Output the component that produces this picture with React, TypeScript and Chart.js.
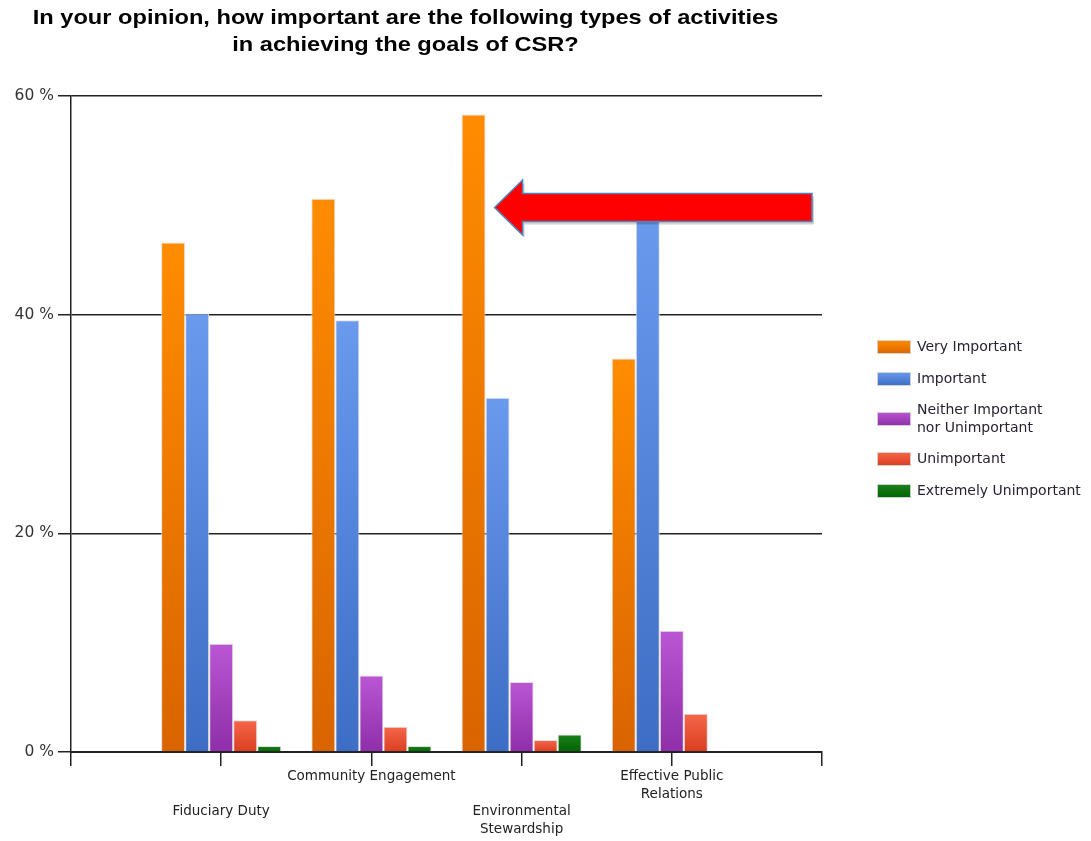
import React, { useEffect, useRef } from "react";
import { Chart, registerables } from "chart.js";

Chart.register(...registerables);

const TITLE_LINES = [
  "In your opinion, how important are the following types of activities",
  "in achieving the goals of CSR?",
];

// category positions: empty slot at each end of the axis
const CATEGORY_LABELS: string[][] = [
  [""],
  ["", "", "Fiduciary Duty"],
  ["Community Engagement"],
  ["", "", "Environmental", "Stewardship"],
  ["Effective Public", "Relations"],
  [""],
];

const SERIES_NAMES = [
  "Very Important",
  "Important",
  "Neither Important\nnor Unimportant",
  "Unimportant",
  "Extremely Unimportant",
];

const VERY_IMPORTANT = [null, 46.6, 50.6, 58.3, 36.0, null];
const IMPORTANT = [null, 40.1, 39.5, 32.4, 49.4, null];
const NEITHER = [null, 9.9, 7.0, 6.4, 11.1, null];
const UNIMPORTANT = [null, 2.9, 2.3, 1.1, 3.5, null];
const EXTREMELY_UNIMPORTANT = [null, 0.55, 0.55, 1.6, 0, null];

const Y_TICKS = [0, 20, 40, 60];

const SERIES_COLORS: [string, string][] = [
  ["#FF8C00", "#D96400"],
  ["#6A9AEE", "#3D6DC4"],
  ["#BA56D4", "#8E2EA8"],
  ["#F6664A", "#DA3E20"],
  ["#1C801C", "#006400"],
];

const ARROW_VALUE = 49.8;
const ARROW_CATEGORY = 3;

const TITLE_FONT = "'Liberation Sans', Arial, sans-serif";
const FONT = "'DejaVu Sans', Verdana, sans-serif";

function gradientFor(chart: any, idx: number, v: number | null) {
  const [top, bottom] = SERIES_COLORS[idx];
  const y = chart.scales?.y;
  if (!y || v == null) return top;
  const y0 = y.getPixelForValue(0);
  const y1 = y.getPixelForValue(v);
  if (!isFinite(y0) || !isFinite(y1) || Math.abs(y0 - y1) < 1) return bottom;
  const g = chart.ctx.createLinearGradient(0, y1, 0, y0);
  g.addColorStop(0, top);
  g.addColorStop(1, bottom);
  return g;
}

const titlePlugin = {
  id: "customTitle",
  afterDraw(chart: any) {
    const { ctx, chartArea } = chart;
    const cx = (chartArea.left + chartArea.right) / 2 - 41;
    const sx = 1.125;
    ctx.save();
    ctx.fillStyle = "#000";
    ctx.font = `bold 21px ${TITLE_FONT}`;
    ctx.textAlign = "center";
    ctx.textBaseline = "middle";
    ctx.translate(cx, 0);
    ctx.scale(sx, 1);
    TITLE_LINES.forEach((line, i) => ctx.fillText(line, 0, 10 + i * 27));
    ctx.restore();
  },
};

const legendPlugin = {
  id: "customLegend",
  afterDraw(chart: any) {
    const { ctx, chartArea } = chart;
    const boxX = chartArea.right + 55;
    const textX = boxX + 40;
    let top = (chartArea.top + chartArea.bottom) / 2 - 93;
    ctx.save();
    ctx.font = `14px ${FONT}`;
    ctx.textBaseline = "middle";
    ctx.textAlign = "left";
    SERIES_NAMES.forEach((name, i) => {
      const lines = name.split("\n");
      const h = lines.length > 1 ? 48 : 32;
      const cy = top + h / 2;
      const [c1, c2] = SERIES_COLORS[i];
      const g = ctx.createLinearGradient(0, cy - 7, 0, cy + 7);
      g.addColorStop(0, c1);
      g.addColorStop(1, c2);
      ctx.fillStyle = g;
      ctx.fillRect(boxX, cy - 6.5, 34, 13);
      ctx.strokeStyle = "rgba(215,215,215,0.9)";
      ctx.lineWidth = 1;
      ctx.strokeRect(boxX + 0.5, cy - 6.5, 33, 13);
      ctx.fillStyle = "#2a2233";
      lines.forEach((ln, j) => {
        ctx.fillText(ln, textX, cy + (j - (lines.length - 1) / 2) * 18);
      });
      top += h;
    });
    ctx.restore();
  },
};

const arrowPlugin = {
  id: "arrow",
  afterDatasetsDraw(chart: any) {
    const { ctx, chartArea, scales } = chart;
    const cy = scales.y.getPixelForValue(ARROW_VALUE);
    const tipX = scales.x.getPixelForValue(ARROW_CATEGORY) - 27;
    const endX = chartArea.right - 10;
    const headX = tipX + 28;
    const shaft = 14;
    const head = 27.5;
    const path = (dx: number, dy: number) => {
      ctx.beginPath();
      ctx.moveTo(tipX + dx, cy + dy);
      ctx.lineTo(headX + dx, cy - head + dy);
      ctx.lineTo(headX + dx, cy - shaft + dy);
      ctx.lineTo(endX + dx, cy - shaft + dy);
      ctx.lineTo(endX + dx, cy + shaft + dy);
      ctx.lineTo(headX + dx, cy + shaft + dy);
      ctx.lineTo(headX + dx, cy + head + dy);
      ctx.closePath();
    };
    ctx.save();
    path(2, 3);
    ctx.fillStyle = "rgba(0,0,0,0.18)";
    ctx.fill();
    path(0, 0);
    ctx.fillStyle = "#FF0000";
    ctx.fill();
    ctx.strokeStyle = "#4F81BD";
    ctx.lineWidth = 1.5;
    ctx.stroke();
    ctx.restore();
  },
};

export default function App() {
  const ref = useRef<HTMLCanvasElement | null>(null);

  useEffect(() => {
    if (!ref.current) return;
    const seriesData = [VERY_IMPORTANT, IMPORTANT, NEITHER, UNIMPORTANT, EXTREMELY_UNIMPORTANT];
    const chart = new Chart(ref.current, {
      type: "bar",
      data: {
        labels: CATEGORY_LABELS as any,
        datasets: seriesData.map((d, i) => ({
          label: SERIES_NAMES[i].replace("\n", " "),
          data: d as any,
          backgroundColor: (c: any) => gradientFor(c.chart, i, c.raw),
          borderColor: "rgba(222,222,222,0.95)",
          borderWidth: 1,
          categoryPercentage: 0.8,
          barPercentage: 1.0,
        })),
      },
      options: {
        animation: false,
        responsive: true,
        maintainAspectRatio: false,
        layout: { padding: { top: 88, right: 261, left: 0, bottom: 0 } },
        plugins: {
          legend: { display: false },
          title: { display: false },
          tooltip: { enabled: false },
        },
        scales: {
          x: {
            offset: false,
            afterFit: (s: any) => {
              s.height = 89;
            },
            grid: {
              display: true,
              offset: false,
              drawOnChartArea: false,
              drawTicks: true,
              tickLength: 14,
              color: "#222",
              lineWidth: 1.5,
            },
            border: { display: true, color: "#222", width: 2 },
            ticks: {
              autoSkip: false,
              maxRotation: 0,
              minRotation: 0,
              padding: 2,
              color: "#222",
              font: { family: FONT, size: 13.5, lineHeight: 1.3 },
            },
          },
          y: {
            min: 0,
            max: 60,
            afterFit: (s: any) => {
              s.width = 63;
            },
            afterBuildTicks: (s: any) => {
              s.ticks = Y_TICKS.map((v) => ({ value: v }));
            },
            grid: {
              color: "#222",
              lineWidth: 1.5,
              tickLength: 13,
            },
            border: { display: true, color: "#222", width: 1.5 },
            ticks: {
              padding: 4,
              color: "#333",
              font: { family: FONT, size: 15.5 },
              callback: (v: any) => `${v} %`,
            },
          },
        },
      },
      plugins: [titlePlugin, legendPlugin, arrowPlugin],
    });
    return () => chart.destroy();
  }, []);

  return (
    <div style={{ width: 1075, height: 833, position: "relative" }}>
      <canvas ref={ref} />
    </div>
  );
}
